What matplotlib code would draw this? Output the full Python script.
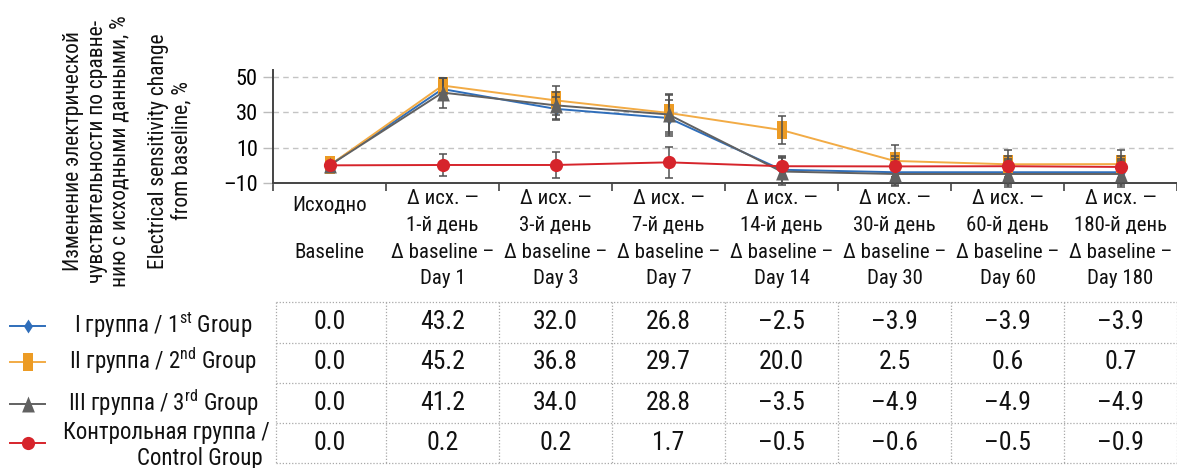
import numpy as np
import matplotlib
matplotlib.use("Agg")
import matplotlib.pyplot as plt
from matplotlib import transforms, font_manager
from matplotlib.lines import Line2D

# prefer a condensed face; fall back to a regular one with slightly smaller sizes
_installed = {f.name for f in font_manager.fontManager.ttflist}
_narrow = [n for n in ["Liberation Sans Narrow", "Roboto Condensed", "Arial Narrow"] if n in _installed]
if _narrow:
    MAIN = _narrow[0]
    K = 1.0
else:
    MAIN = "Liberation Sans"
    K = 0.9
plt.rcParams["font.family"] = [MAIN, "DejaVu Sans"]
plt.rcParams["mathtext.fontset"] = "custom"
plt.rcParams["mathtext.rm"] = MAIN

# ---- data -------------------------------------------------------------
categories_ru = ["Исходно", "Δ исх. —\n1-й день", "Δ исх. —\n3-й день", "Δ исх. —\n7-й день",
                 "Δ исх. —\n14-й день", "Δ исх. —\n30-й день", "Δ исх. —\n60-й день",
                 "Δ исх. —\n180-й день"]
categories_en = ["Baseline", "Δ baseline –\nDay 1", "Δ baseline –\nDay 3", "Δ baseline –\nDay 7",
                 "Δ baseline –\nDay 14", "Δ baseline –\nDay 30", "Δ baseline –\nDay 60",
                 "Δ baseline –\nDay 180"]

group1 = [0.0, 43.2, 32.0, 26.8, -2.5, -3.9, -3.9, -3.9]
group2 = [0.0, 45.2, 36.8, 29.7, 20.0, 2.5, 0.6, 0.7]
group3 = [0.0, 41.2, 34.0, 28.8, -3.5, -4.9, -4.9, -4.9]
control = [0.0, 0.2, 0.2, 1.7, -0.5, -0.6, -0.5, -0.9]

err1 = [0.0, 6.0, 6.5, 10.0, 7.5, 7.5, 7.5, 7.5]
err2 = [0.0, 4.5, 8.4, 10.8, 8.0, 9.0, 8.0, 8.0]
err3 = [0.0, 8.5, 7.6, 10.8, 7.5, 7.0, 7.5, 7.5]
err_ctrl = [0.0, 6.4, 7.5, 8.8, 6.0, 6.0, 6.0, 6.0]

series_labels = ["I группа / 1$^{\\rm st}$ Group", "II группа / 2$^{\\rm nd}$ Group",
                 "III группа / 3$^{\\rm rd}$ Group", "Контрольная группа /\nControl Group"]

yticks = [-10, 10, 30, 50]

# ---- styles -----------------------------------------------------------
BLUE = "#2F6EBA"
ORANGE = "#EC9B24"
ORANGE_LINE = "#F2AB45"
GRAY = "#616161"
RED = "#D6242B"
ERR = "#505050"
TXT = "#111111"

rect = [(-0.55, -1), (0.55, -1), (0.55, 1), (-0.55, 1), (-0.55, -1)]
tri = [(0, 1), (-0.8, -1), (0.8, -1), (0, 1)]
diam = [(0, 1), (0.65, 0), (0, -1), (-0.65, 0), (0, 1)]

styles = [
    dict(color=BLUE, mfc=BLUE, mec=BLUE, marker=diam, ms=10, z=3),
    dict(color=ORANGE_LINE, mfc=ORANGE, mec=ORANGE, marker=rect, ms=13.5, z=4),
    dict(color=GRAY, mfc=GRAY, mec=GRAY, marker=tri, ms=11.5, z=6),
    dict(color=RED, mfc=RED, mec=RED, marker="o", ms=9.5, z=7),
]

W, H = 1177, 468
fig = plt.figure(figsize=(W / 100, H / 100), dpi=100)


def fy(px):
    return 1 - px / H


def fx(px):
    return px / W


ax = fig.add_axes([fx(273), fy(183), fx(1177) - fx(273), fy(70) - fy(183)])
x = np.arange(len(categories_ru))
ax.set_xlim(-0.5, len(x) - 0.5)
ax.set_ylim(-10, 54)

all_series = [group1, group2, group3, control]
all_err = [err1, err2, err3, err_ctrl]
for vals, st in zip(all_series, styles):
    ax.plot(x, vals, color=st["color"], lw=1.4, marker=st["marker"], ms=st["ms"],
            mfc=st["mfc"], mec=st["mec"], mew=0, zorder=st["z"], clip_on=False)
for vals, e in zip(all_series, all_err):
    ax.errorbar(x[1:], vals[1:], yerr=e[1:], fmt="none", ecolor=ERR, elinewidth=1.1,
                capsize=3, capthick=1.1, zorder=5, clip_on=False)

# grid and axes
for yv in yticks[1:]:
    ax.axhline(yv, color="#c4c4c4", lw=1.0, ls=(0, (4, 3)), zorder=1)
for s in ["top", "right"]:
    ax.spines[s].set_visible(False)
for s in ["left", "bottom"]:
    ax.spines[s].set_color("#444444")
    ax.spines[s].set_linewidth(1.4)

ax.set_yticks(yticks)
ax.set_yticklabels([f"{v}".replace("-", "–") for v in yticks], fontsize=16 * K)
ax.tick_params(axis="y", length=7, width=1.0, color="#bbbbbb", pad=4)
ax.get_yticklines()[0].set_color("#444444")

ax.set_xticks(np.arange(-0.5, len(x) - 0.4, 1.0))
ax.set_xticklabels([])
ax.tick_params(axis="x", length=6, width=1.2, color="#444444", direction="out")

# category labels (two languages)
bt = transforms.blended_transform_factory(ax.transData, fig.transFigure)
for i in range(len(x)):
    ru = categories_ru[i].split("\n")
    en = categories_en[i].split("\n")
    if len(ru) == 1:
        rows = [(ru[0], 206), (en[0], 252)]
    else:
        rows = [(ru[0], 199), (ru[1], 225), (en[0], 252), (en[1], 278)]
    for txt, ypx in rows:
        fig.text(i, fy(ypx), txt, transform=bt, ha="center", va="center", fontsize=15 * K,
                 color=TXT)

# y-axis titles
fig.text(fx(97), fy(151), "Изменение электрической\nчувствительности по сравне-\nнию с исходными данными, %",
         rotation=90, ha="center", va="center", multialignment="center", fontsize=15.5 * K,
         linespacing=1.15, color=TXT)
fig.text(fx(170), fy(151), "Electrical sensitivity change\nfrom baseline, %",
         rotation=90, ha="center", va="center", multialignment="center", fontsize=15.5 * K,
         linespacing=1.15, color=TXT)

# data table
row_edges = [302, 343, 383, 423, 463]
row_centers = [322, 362, 403, 443]
dot = dict(color="#a8a8a8", lw=0.9, ls=(0, (1, 1.5)))
for ypx in row_edges:
    fig.add_artist(Line2D([-0.5 + 0.03, len(x) - 0.5], [fy(ypx), fy(ypx)], transform=bt, **dot))
for xb in np.arange(-0.5, len(x) - 0.4, 1.0):
    xx = xb + 0.03 if xb < 0 else xb
    fig.add_artist(Line2D([xx, xx], [fy(row_edges[0]), fy(row_edges[-1])], transform=bt, **dot))


def fmt(v):
    return f"{v:.1f}".replace("-", "–")


for vals, ypx in zip(all_series, row_centers):
    for i, v in enumerate(vals):
        fig.text(i, fy(ypx), fmt(v), transform=bt, ha="center", va="center", fontsize=18.5 * K,
                 color=TXT)

# legend column
leg_y = [326, 362, 404, 443]
for st, ypx in zip(styles, leg_y):
    fig.add_artist(Line2D([fx(10), fx(45)], [fy(ypx), fy(ypx)], color=st["color"], lw=1.4,
                          transform=fig.transFigure))
    fig.add_artist(Line2D([fx(27.5)], [fy(ypx)], marker=st["marker"], ms=st["ms"],
                          mfc=st["mfc"], mec=st["mec"], mew=0, transform=fig.transFigure))
for lab, ypx in zip(series_labels[:3], leg_y[:3]):
    fig.text(fx(163), fy(ypx - 1), lab, ha="center", va="center", fontsize=16.5 * K, color=TXT)
ctrl_lines = series_labels[3].split("\n")
fig.text(fx(166), fy(433), ctrl_lines[0], ha="center", va="center", fontsize=16.5 * K, color=TXT)
fig.text(fx(263), fy(458), ctrl_lines[1], ha="right", va="center", fontsize=16.5 * K, color=TXT)

fig.savefig("out.png", dpi=100)
